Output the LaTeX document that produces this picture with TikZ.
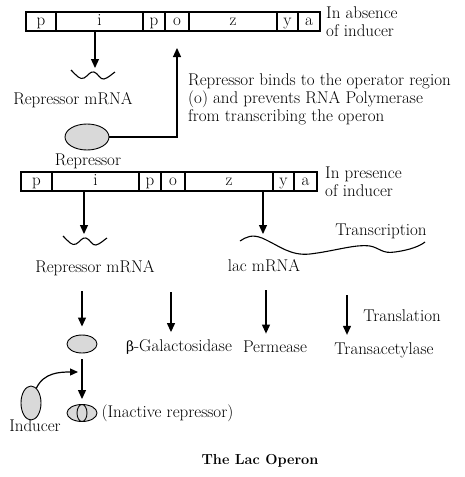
\documentclass[tikz,border=0pt]{standalone}
\usepackage{fontspec}
\newfontfamily\grkfont{DejaVu Serif}
\usepackage{tikz}
\usetikzlibrary{positioning,shapes.geometric,arrows.meta}
\tikzstyle{seg} = [draw=black, line width=1.1pt, rectangle, minimum height=19pt, inner sep=0pt, outer sep=0pt, text height=10pt, text depth=3pt]
\tikzstyle{arr} = [line width=1.2pt, -{Triangle[length=9pt,width=8pt]}]
\tikzstyle{blob} = [draw=black, fill=black!15, ellipse, line width=0.9pt, inner sep=0pt]
\tikzstyle{lbl} = [align=left, inner sep=0pt]
\tikzstyle{wave} = [line width=1.1pt]

\begin{document}
\begin{tikzpicture}[x=1pt, y=-1pt, font=\fontsize{17}{18}\selectfont]
\useasboundingbox (0,0) rectangle (465,477);

% operon, no inducer
\node[seg, minimum width=30pt, anchor=north west] (p1) at (26,12) {p};
\node[seg, minimum width=87pt, right=0pt of p1] (i1) {i};
\node[seg, minimum width=22pt, right=0pt of i1] (pp1) {p};
\node[seg, minimum width=24pt, right=0pt of pp1] (o1) {o};
\node[seg, minimum width=88pt, right=0pt of o1] (z1) {z};
\node[seg, minimum width=21pt, right=0pt of z1] (y1) {y};
\node[seg, minimum width=22pt, right=0pt of y1] (a1) {a};
\node[lbl, right=6pt of a1] (absent) {In absence\\of inducer};

\coordinate (w1) at (95,68);
\draw[arr] (w1 |- i1.south) -- (w1);
\draw[wave] (71,70) .. controls (77,76) and (80,80) .. (84,78)
  .. controls (88,76) and (90,71) .. (94,72)
  .. controls (98,73) and (100,80) .. (104,79)
  .. controls (108,78) and (112,74) .. (115,72);
\node (rm1) at (73,100) {Repressor mRNA};

\node[blob, minimum width=44pt, minimum height=26pt] (rep1) at (87,137) {};
\node (replbl) at (88,161) {Repressor};
\draw[arr, shorten >=17pt] (rep1.east) -| (o1.south);
\node[lbl, anchor=west] (binds) at (188,99) {Repressor binds to the operator region\\(o) and prevents RNA Polymerase\\from transcribing the operon};

% operon, with inducer
\node[seg, minimum width=31pt, anchor=north west] (p2) at (21,172) {p};
\node[seg, minimum width=87pt, right=0pt of p2] (i2) {i};
\node[seg, minimum width=22pt, right=0pt of i2] (pp2) {p};
\node[seg, minimum width=24pt, right=0pt of pp2] (o2) {o};
\node[seg, minimum width=88pt, right=0pt of o2] (z2) {z};
\node[seg, minimum width=21pt, right=0pt of z2] (y2) {y};
\node[seg, minimum width=23pt, right=0pt of y2] (a2) {a};
\node[lbl, right=8pt of a2] (present) {In presence\\of inducer};

\coordinate (w2) at (84,234);
\draw[arr] (w2 |- i2.south) -- (w2);
\draw[wave] (63,236) .. controls (69,242) and (72,246) .. (76,244)
  .. controls (80,242) and (82,237) .. (86,238)
  .. controls (90,239) and (92,246) .. (96,245)
  .. controls (100,244) and (104,240) .. (107,238);
\node (rm2) at (95,268) {Repressor mRNA};

\coordinate (w3) at (263,234);
\draw[arr] (w3 |- z2.south) -- (w3);
\draw[wave] (240,241) .. controls (246,237) and (252,234) .. (262,238)
  .. controls (280,246) and (290,256) .. (310,254)
  .. controls (335,251) and (355,244) .. (370,246)
  .. controls (380,248) and (382,254) .. (395,252)
  .. controls (410,250) and (420,246) .. (425,242);
\node (lac) at (264,266) {lac mRNA};
\node (transc) at (381,231) {Transcription};

% translation
\node (bgal) at (179,347) {{\grkfont\fontsize{14}{18}\selectfont β}-Galactosidase};
\node (perm) at (275,347) {Permease};
\node (tacet) at (384,350) {Transacetylase};
\node (transl) at (402,316) {Translation};
\coordinate (t1) at (171,292);
\coordinate (t2) at (266,290);
\coordinate (t3) at (347,295);
\draw[arr, shorten >=4pt] (t1) -- (t1 |- bgal.north);
\draw[arr, shorten >=4pt] (t2) -- (t2 |- perm.north);
\draw[arr, shorten >=4pt] (t3) -- (t3 |- tacet.north);

% inducer binds repressor
\node[blob, minimum width=30pt, minimum height=18pt] (rep2) at (82,344) {};
\draw[arr, shorten <=12pt, shorten >=8pt] (rm2.south -| rep2.north) -- (rep2.north);
\node[blob, minimum width=30pt, minimum height=17pt] (inact) at (82,413) {};
\node[blob, minimum width=10pt, minimum height=17pt] (ind2) at (inact.center) {};
\draw[arr, shorten <=6pt, shorten >=5pt] (rep2.south) -- (inact.north);
\node[blob, minimum width=20pt, minimum height=34pt] (ind) at (31,403) {};
\coordinate (join) at (78,372);
\draw[line width=1.2pt, -{Triangle[length=8pt,width=7pt]}] (ind.70) to[out=65, in=180] (join);
\node (indlbl) at (35,426) {Inducer};
\node[lbl, right=4pt of inact] (inactlbl) {(Inactive repressor)};

\node[font=\fontsize{14.5}{16}\selectfont\bfseries] (title) at (260,461) {The Lac Operon};
\end{tikzpicture}
\end{document}
